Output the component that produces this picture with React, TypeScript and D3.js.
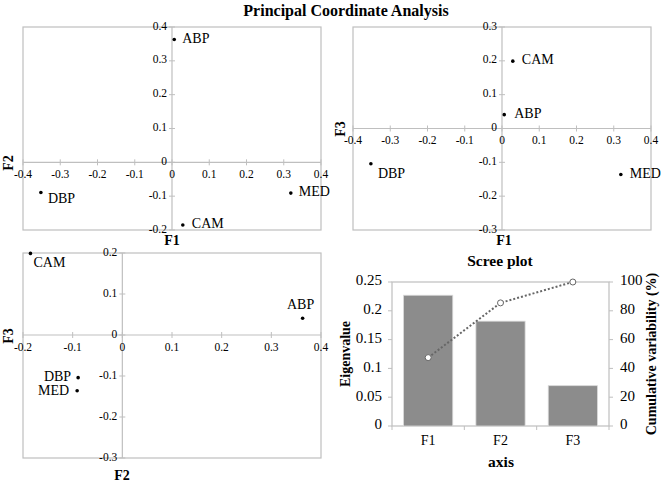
import React from "react";
import * as d3 from "d3";

const sites = ["ABP", "CAM", "DBP", "MED"];
const f1 = [0.006, 0.029, -0.352, 0.319];
const f2 = [0.363, -0.185, -0.089, -0.091];
const f3 = [0.041, 0.199, -0.104, -0.136];

const screeAxes = ["F1", "F2", "F3"];
const eigenvalues = [0.227, 0.182, 0.07];
const cumulative = [47.5, 85.5, 100];
const eigenTicks = [0, 0.05, 0.1, 0.15, 0.2, 0.25];
const cumTicks = [0, 20, 40, 60, 80, 100];

const GRID = "#bfbfbf";
const FONT = "'Liberation Serif', 'Times New Roman', serif";

type Lab = { dx: number; dy: number; anchor: string };

type PanelProps = {
  xs: number[];
  ys: number[];
  xDomain: [number, number];
  yDomain: [number, number];
  xRange: [number, number];
  yRange: [number, number];
  xTicks: number[];
  yTicks: number[];
  xTitle: string;
  yTitle: string;
  xTitlePos: [number, number];
  yTitlePos: [number, number];
  labels: Lab[];
};

const fmt = (v: number) => (Math.abs(v) < 1e-9 ? "0" : String(+v.toFixed(2)));

function Panel(p: PanelProps) {
  const x = d3.scaleLinear().domain(p.xDomain).range(p.xRange);
  const y = d3.scaleLinear().domain(p.yDomain).range(p.yRange);
  const x0 = x(0);
  const y0 = y(0);
  return (
    <g fontFamily={FONT}>
      <rect
        x={p.xRange[0]}
        y={p.yRange[1]}
        width={p.xRange[1] - p.xRange[0]}
        height={p.yRange[0] - p.yRange[1]}
        fill="none"
        stroke={GRID}
        strokeWidth={1.2}
      />
      <line x1={p.xRange[0]} x2={p.xRange[1]} y1={y0} y2={y0} stroke={GRID} strokeWidth={1.2} />
      <line x1={x0} x2={x0} y1={p.yRange[0]} y2={p.yRange[1]} stroke={GRID} strokeWidth={1.2} />
      {p.xTicks.map((t) => (
        <g key={"xt" + t}>
          <line x1={x(t)} x2={x(t)} y1={y0 - 3} y2={y0 + 3} stroke={GRID} />
          <text x={x(t)} y={y0 + 13} textAnchor="middle" dominantBaseline="middle" fontSize={11.5}>
            {fmt(t)}
          </text>
        </g>
      ))}
      {p.yTicks.map((t) => (
        <g key={"yt" + t}>
          <line x1={x0 - 3} x2={x0 + 3} y1={y(t)} y2={y(t)} stroke={GRID} />
          <text x={x0 - 5} y={y(t)} textAnchor="end" dominantBaseline="middle" fontSize={11.5}>
            {fmt(t)}
          </text>
        </g>
      ))}
      <text
        x={p.xTitlePos[0]}
        y={p.xTitlePos[1]}
        textAnchor="middle"
        dominantBaseline="middle"
        fontSize={14}
        fontWeight="bold"
      >
        {p.xTitle}
      </text>
      <text
        transform={`translate(${p.yTitlePos[0]},${p.yTitlePos[1]}) rotate(-90)`}
        textAnchor="middle"
        dominantBaseline="middle"
        fontSize={14}
        fontWeight="bold"
      >
        {p.yTitle}
      </text>
      {sites.map((s, i) => (
        <g key={s}>
          <circle cx={x(p.xs[i])} cy={y(p.ys[i])} r={1.8} fill="#000" />
          <text
            x={x(p.xs[i]) + p.labels[i].dx}
            y={y(p.ys[i]) + p.labels[i].dy}
            textAnchor={p.labels[i].anchor}
            dominantBaseline="middle"
            fontSize={14}
          >
            {s}
          </text>
        </g>
      ))}
    </g>
  );
}

function Scree() {
  const left = 392;
  const right = 609;
  const top = 282;
  const bottom = 426;
  const xb = d3.scaleBand().domain(screeAxes).range([left, right]).paddingInner(0.32).paddingOuter(0.16);
  const xc = d3.scaleBand().domain(screeAxes).range([left, right]);
  const y = d3.scaleLinear().domain([0, 0.25]).range([bottom, top]);
  const y2 = d3.scaleLinear().domain([0, 100]).range([bottom, top]);
  const line = d3
    .line<number>()
    .x((_, i) => (xc(screeAxes[i]) as number) + xc.bandwidth() / 2)
    .y((d) => y2(d));
  const boundaries = [...screeAxes.map((a) => xc(a) as number), right];
  return (
    <g fontFamily={FONT}>
      <text x={500} y={262} textAnchor="middle" dominantBaseline="middle" fontSize={15.5} fontWeight="bold">
        Scree plot
      </text>
      <rect x={left} y={top} width={right - left} height={bottom - top} fill="none" stroke={GRID} strokeWidth={1.2} />
      {screeAxes.map((a, i) => (
        <rect
          key={a}
          x={xb(a)}
          y={y(eigenvalues[i])}
          width={xb.bandwidth()}
          height={bottom - y(eigenvalues[i])}
          fill="#8c8c8c"
          stroke="#d9d9d9"
          strokeWidth={0.8}
        />
      ))}
      {eigenTicks.map((t) => (
        <g key={"e" + t}>
          <line x1={left - 4} x2={left} y1={y(t)} y2={y(t)} stroke={GRID} />
          <text x={left - 10} y={y(t)} textAnchor="end" dominantBaseline="middle" fontSize={15}>
            {fmt(t)}
          </text>
        </g>
      ))}
      {cumTicks.map((t) => (
        <g key={"c" + t}>
          <line x1={right} x2={right + 4} y1={y2(t)} y2={y2(t)} stroke={GRID} />
          <text x={right + 11} y={y2(t)} textAnchor="start" dominantBaseline="middle" fontSize={15}>
            {t}
          </text>
        </g>
      ))}
      {boundaries.map((b, i) => (
        <line key={"b" + i} x1={b} x2={b} y1={bottom} y2={bottom + 4} stroke={GRID} />
      ))}
      {screeAxes.map((a) => (
        <text
          key={"l" + a}
          x={(xc(a) as number) + xc.bandwidth() / 2}
          y={442}
          textAnchor="middle"
          dominantBaseline="middle"
          fontSize={14}
        >
          {a}
        </text>
      ))}
      <path d={line(cumulative) || ""} fill="none" stroke="#666" strokeWidth={2} strokeDasharray="2,2" />
      {cumulative.map((c, i) => (
        <circle
          key={"m" + i}
          cx={(xc(screeAxes[i]) as number) + xc.bandwidth() / 2}
          cy={y2(c)}
          r={3}
          fill="#fff"
          stroke="#666"
          strokeWidth={1}
        />
      ))}
      <text x={501} y={463} textAnchor="middle" dominantBaseline="middle" fontSize={15.5} fontWeight="bold">
        axis
      </text>
      <text
        transform={`translate(347,354) rotate(-90)`}
        textAnchor="middle"
        dominantBaseline="middle"
        fontSize={14}
        fontWeight="bold"
      >
        Eigenvalue
      </text>
      <text
        transform={`translate(653,354) rotate(-90)`}
        textAnchor="middle"
        dominantBaseline="middle"
        fontSize={14}
        fontWeight="bold"
      >
        Cumulative variability (%)
      </text>
    </g>
  );
}

export default function App() {
  const t8 = [-0.4, -0.3, -0.2, -0.1, 0, 0.1, 0.2, 0.3, 0.4];
  return (
    <svg
      width={664}
      height={485}
      style={{ position: "absolute", left: 0, top: 0, background: "#fff" }}
    >
      <rect x={0} y={0} width={664} height={485} fill="#fff" />
      <text
        x={346}
        y={12}
        textAnchor="middle"
        dominantBaseline="middle"
        fontSize={16}
        fontWeight="bold"
        fontFamily={FONT}
      >
        Principal Coordinate Analysis
      </text>
      <Panel
        xs={f1}
        ys={f2}
        xDomain={[-0.4, 0.4]}
        yDomain={[-0.2, 0.4]}
        xRange={[23, 321]}
        yRange={[230, 27]}
        xTicks={t8}
        yTicks={[-0.2, -0.1, 0, 0.1, 0.2, 0.3, 0.4]}
        xTitle="F1"
        yTitle="F2"
        xTitlePos={[172, 242]}
        yTitlePos={[10, 163]}
        labels={[
          { dx: 8, dy: 0, anchor: "start" },
          { dx: 9, dy: 0, anchor: "start" },
          { dx: 7, dy: 7, anchor: "start" },
          { dx: 8, dy: 0, anchor: "start" },
        ]}
      />
      <Panel
        xs={f1}
        ys={f3}
        xDomain={[-0.4, 0.4]}
        yDomain={[-0.3, 0.3]}
        xRange={[353, 651]}
        yRange={[230, 27]}
        xTicks={t8}
        yTicks={[-0.3, -0.2, -0.1, 0, 0.1, 0.2, 0.3]}
        xTitle="F1"
        yTitle="F3"
        xTitlePos={[504, 242]}
        yTitlePos={[342, 129]}
        labels={[
          { dx: 10, dy: 0, anchor: "start" },
          { dx: 9, dy: 0, anchor: "start" },
          { dx: 7, dy: 11, anchor: "start" },
          { dx: 9, dy: 0, anchor: "start" },
        ]}
      />
      <Panel
        xs={f2}
        ys={f3}
        xDomain={[-0.2, 0.4]}
        yDomain={[-0.3, 0.2]}
        xRange={[23, 321]}
        yRange={[458, 253]}
        xTicks={[-0.2, -0.1, 0, 0.1, 0.2, 0.3, 0.4]}
        yTicks={[-0.3, -0.2, -0.1, 0, 0.1, 0.2]}
        xTitle="F2"
        yTitle="F3"
        xTitlePos={[122, 477]}
        yTitlePos={[10, 336]}
        labels={[
          { dx: -2, dy: -12, anchor: "middle" },
          { dx: 3, dy: 10, anchor: "start" },
          { dx: -7, dy: 0, anchor: "end" },
          { dx: -8, dy: 1, anchor: "end" },
        ]}
      />
      <Scree />
    </svg>
  );
}
